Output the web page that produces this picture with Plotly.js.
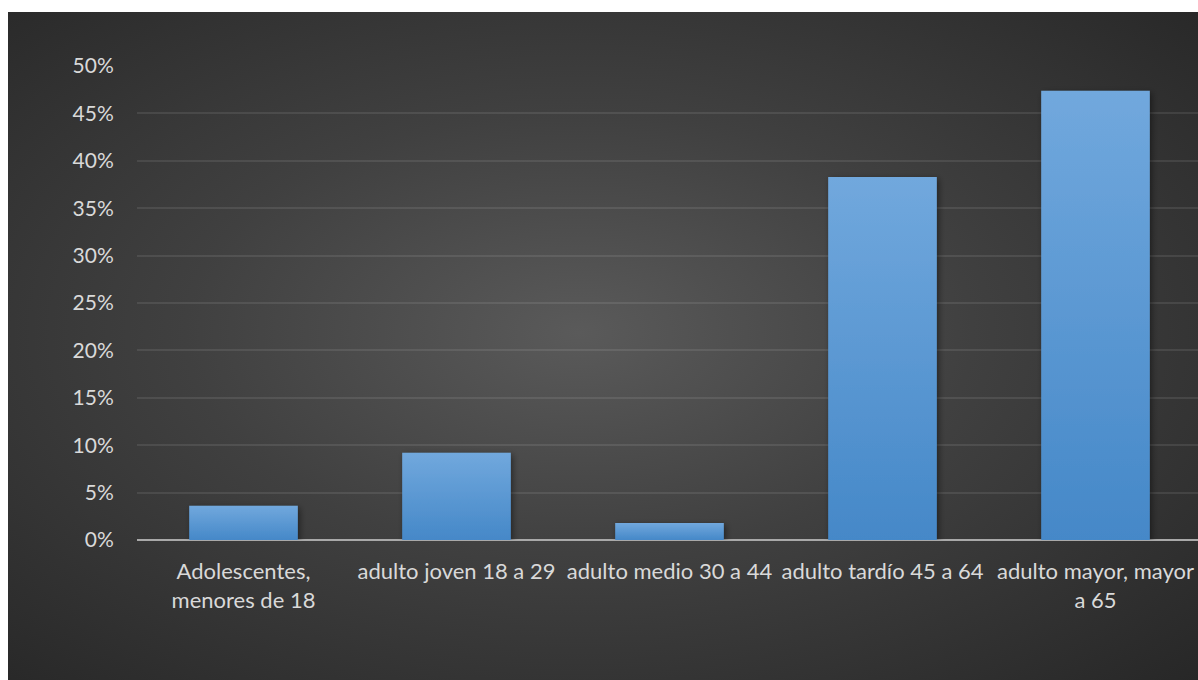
<!DOCTYPE html>
<html>
<head>
<meta charset="utf-8">
<script src="https://cdn.plot.ly/plotly-3.0.1.min.js"></script>
<style>
  html, body { margin: 0; padding: 0; background: #ffffff; overflow: hidden; width: 1198px; height: 680px; }
  #panel {
    position: absolute; left: 8px; top: 12px; width: 1190px; height: 668px;
    background: radial-gradient(ellipse farthest-corner at 48% 48%, #5a5a5a 0%, #404040 45%, #272727 100%);
  }
  #chart { position: absolute; left: 0; top: 0; width: 1210px; height: 680px; }
</style>
</head>
<body>
<div id="panel"></div>
<div id="chart"></div>
<script>
// Age groups and the share of each group
const categories = [
  'Adolescentes,<br>menores de 18',
  'adulto joven 18 a 29',
  'adulto medio 30 a 44',
  'adulto tardío 45 a 64',
  'adulto mayor, mayor<br>a 65'
];
const shares = [0.036, 0.092, 0.018, 0.383, 0.474];

const labelFont = { family: 'Lato, "Open Sans", sans-serif', size: 22, color: '#d9d9d9' };

const trace = {
  type: 'bar',
  x: categories,
  y: shares,
  marker: { color: '#5b9ad6', line: { width: 0 } },
  hoverinfo: 'skip'
};

const layout = {
  width: 1210,
  height: 680,
  margin: { l: 137, r: 8, t: 66, b: 140 },
  paper_bgcolor: 'rgba(0,0,0,0)',
  plot_bgcolor: 'rgba(0,0,0,0)',
  showlegend: false,
  bargap: 0.49,
  font: labelFont,
  xaxis: {
    type: 'category',
    tickangle: 0,
    tickfont: labelFont,
    showgrid: false,
    showline: false,
    zeroline: false,
    ticks: 'outside',
    ticklen: 12,
    tickcolor: 'rgba(0,0,0,0)',
    fixedrange: true
  },
  yaxis: {
    range: [0, 0.5],
    dtick: 0.05,
    tick0: 0,
    tickformat: '.0%',
    tickfont: { family: labelFont.family, size: 21, color: labelFont.color },
    showgrid: true,
    gridcolor: 'rgba(255,255,255,0.09)',
    gridwidth: 2,
    zeroline: true,
    zerolinecolor: '#a9a9a9',
    zerolinewidth: 2,
    showline: false,
    ticks: 'outside',
    ticklen: 18,
    tickcolor: 'rgba(0,0,0,0)',
    fixedrange: true
  }
};

// Vertical light-to-dark fill and a soft shadow for the bars
function styleBars(gd) {
  const svg = gd.querySelector('svg.main-svg');
  const ns = 'http://www.w3.org/2000/svg';
  let defs = svg.querySelector('defs');
  if (!defs) { defs = document.createElementNS(ns, 'defs'); svg.insertBefore(defs, svg.firstChild); }
  defs.insertAdjacentHTML('beforeend',
    '<linearGradient id="barFill" x1="0" y1="0" x2="0" y2="1">' +
      '<stop offset="0" stop-color="#71a8dd"/>' +
      '<stop offset="1" stop-color="#4588c8"/>' +
    '</linearGradient>' +
    '<filter id="barShadow" x="-20%" y="-20%" width="140%" height="140%">' +
      '<feDropShadow dx="2" dy="2" stdDeviation="3" flood-color="#000" flood-opacity="0.45"/>' +
    '</filter>');
  gd.querySelectorAll('.barlayer .point path').forEach(p => {
    p.style.fill = 'url(#barFill)';
    p.setAttribute('filter', 'url(#barShadow)');
  });
}

Plotly.newPlot('chart', [trace], layout, { displayModeBar: false, staticPlot: true })
  .then(styleBars);
</script>
</body>
</html>
